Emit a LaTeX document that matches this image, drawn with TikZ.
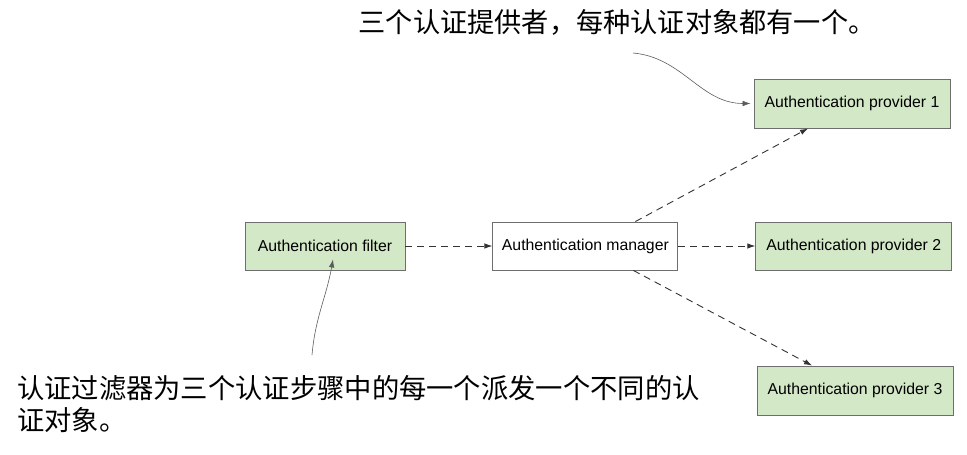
\documentclass[tikz,border=0pt]{standalone}
\usepackage{fontspec}
\setmainfont{Liberation Sans}
\newfontfamily\cjk{Noto Sans CJK SC}
\usepackage{tikz}
\usetikzlibrary{arrows.meta,positioning}

\definecolor{boxgreen}{HTML}{D3E8C6}
\definecolor{boxline}{HTML}{6E6E6E}
\definecolor{arrowgray}{HTML}{333333}

\begin{document}
\begin{tikzpicture}[
  x=1pt, y=-1pt,
  node distance=87pt,
  box/.style={draw=boxline, line width=0.9pt, minimum height=48pt,
              font=\fontsize{15.8}{18}\selectfont, inner sep=0pt},
  green/.style={box, fill=boxgreen},
  flow/.style={-{Latex[length=8pt,width=5.5pt]}, dash pattern=on 7pt off 5pt,
               draw=arrowgray, line width=0.9pt},
  note/.style={-{Latex[length=8pt,width=5.5pt]}, draw=arrowgray!80, line width=0.6pt},
  cjktext/.style={font=\cjk\fontsize{27.2}{32}\selectfont, inner sep=0pt, align=left}
]
\useasboundingbox (0,0) rectangle (967,455);

% --- Main boxes ---
\node[green, minimum width=160pt] (filter) at (325,246) {Authentication filter};
\node[box, minimum width=185pt, right=87pt of filter] (manager) {Authentication manager};
\node[green, minimum width=196pt, right=77pt of manager] (prov2) {Authentication provider 2};
\node[green, minimum width=196pt, minimum height=49pt] (prov1) at (852,103.5) {Authentication provider 1};
\node[green, minimum width=196pt, minimum height=49pt] (prov3) at (855,390.5) {Authentication provider 3};

% --- Annotations ---
\node[cjktext] (topnote) at (617,22) {三个认证提供者，每种认证对象都有一个。};
\node[cjktext, anchor=north west, font=\cjk\fontsize{27.3}{32}\selectfont] (botnote) at (17,375)
  {认证过滤器为三个认证步骤中的每一个派发一个不同的认\\证对象。};

\coordinate (topstart) at (633,53);
\coordinate (botstart) at (312,355);

% --- Dashed flow ---
\draw[flow] (filter) -- (manager);
\draw[flow] ([xshift=50pt]manager.north) -- ([xshift=-44pt]prov1.south);
\draw[flow] (manager) -- (prov2);
\draw[flow] ([xshift=48pt]manager.south) -- ([xshift=-43pt]prov3.north);

% --- Callout curves ---
\draw[note] (topstart) to[out=-5, in=180] ([xshift=-3pt]prov1.west);
\draw[note] (botstart) to[out=85, in=-100] ([xshift=8pt, yshift=11pt]filter.south);
\end{tikzpicture}
\end{document}
